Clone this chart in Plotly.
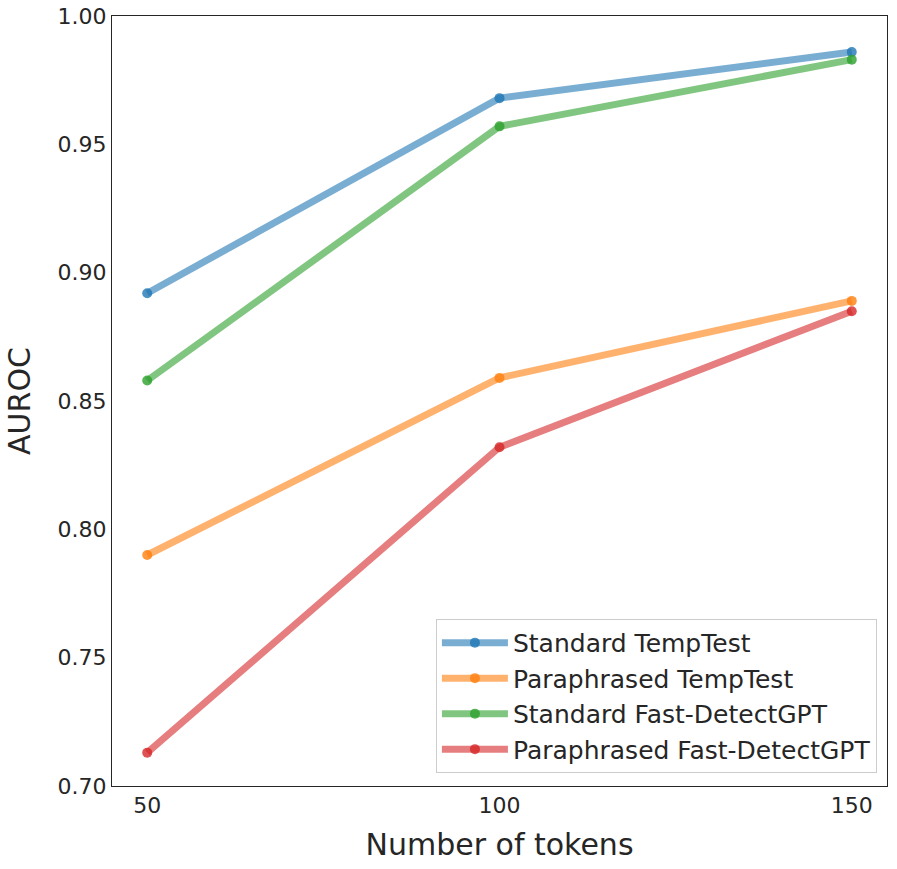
import plotly.graph_objects as go

tokens = [50, 100, 150]
std_temptest = [0.892, 0.968, 0.986]
para_temptest = [0.790, 0.859, 0.889]
std_fast = [0.858, 0.957, 0.983]
para_fast = [0.713, 0.832, 0.885]

names = ["Standard TempTest", "Paraphrased TempTest", "Standard Fast-DetectGPT", "Paraphrased Fast-DetectGPT"]
series = [std_temptest, para_temptest, std_fast, para_fast]
line_colors = ["rgba(31,119,180,0.6)", "rgba(255,127,14,0.6)", "rgba(44,160,44,0.6)", "rgba(214,39,40,0.6)"]
marker_colors = ["rgba(31,119,180,0.8)", "rgba(255,127,14,0.8)", "rgba(44,160,44,0.8)", "rgba(214,39,40,0.8)"]

fig = go.Figure()
for n, s, lc, mc in zip(names, series, line_colors, marker_colors):
    fig.add_trace(go.Scatter(
        x=tokens, y=s, name=n, mode="lines+markers",
        line=dict(color=lc, width=7),
        marker=dict(color=mc, size=10, line=dict(width=0)),
    ))

fig.update_layout(
    width=897, height=869,
    margin=dict(l=112, r=10, t=16, b=83),
    paper_bgcolor="white", plot_bgcolor="white",
    font=dict(family="DejaVu Sans", color="#262626"),
    xaxis=dict(
        range=[45, 155], tickvals=tokens, ticktext=[str(t) for t in tokens],
        tickfont=dict(size=22), showgrid=False, zeroline=False, automargin=False,
        showline=True, linecolor="#262626", linewidth=1, mirror=True, ticks="",
        title=dict(text="Number of tokens", font=dict(size=30), standoff=16),
    ),
    yaxis=dict(
        range=[0.70, 1.00], tickvals=[0.70, 0.75, 0.80, 0.85, 0.90, 0.95, 1.00],
        ticktext=["0.70", "0.75", "0.80", "0.85", "0.90", "0.95", "1.00"],
        tickfont=dict(size=22), showgrid=False, zeroline=False, automargin=False,
        showline=True, linecolor="#262626", linewidth=1, mirror=True, ticks="",
        title=dict(text="AUROC", font=dict(size=30), standoff=18),
    ),
    legend=dict(
        x=0.987, y=0.017, xanchor="right", yanchor="bottom",
        bgcolor="rgba(255,255,255,0.8)", bordercolor="#cccccc", borderwidth=1,
        font=dict(size=25), itemwidth=66, tracegroupgap=0,
    ),
    showlegend=True,
)

fig.write_html("out.html", config={"displayModeBar": False},
               post_script="document.body.style.margin='0';document.body.style.overflow='hidden';")
